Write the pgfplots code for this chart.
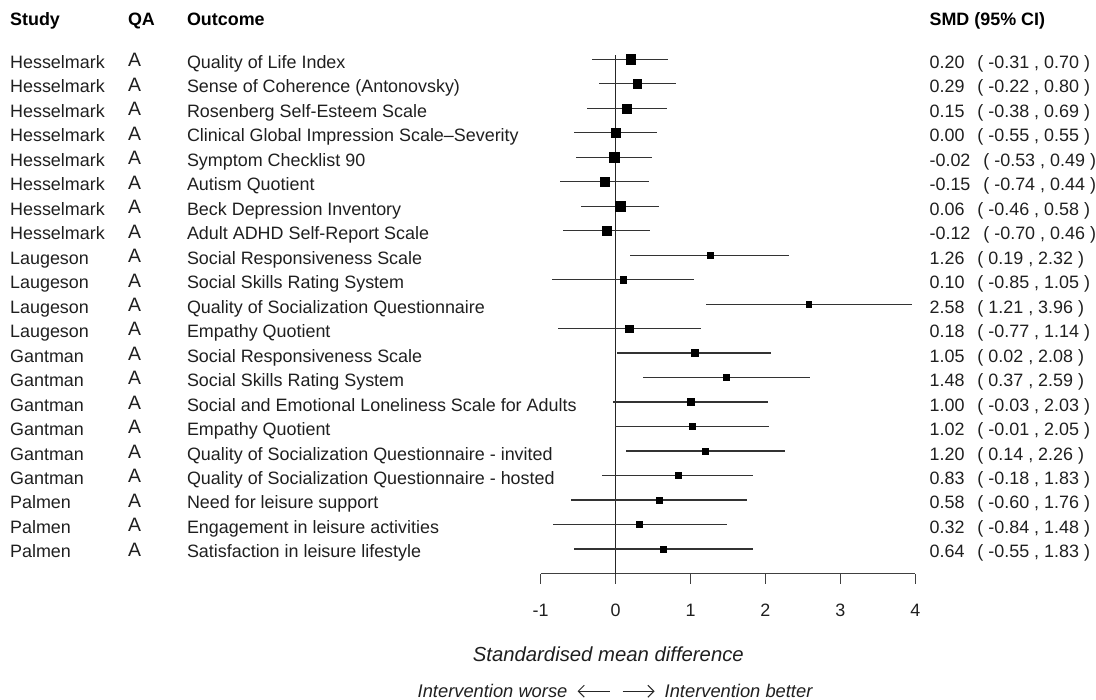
\documentclass[border=0pt]{standalone}
\usepackage{fontspec}
\setmainfont{Liberation Sans}
\usepackage{pgfplots}
\pgfplotsset{compat=1.18}
\usepackage{pgfplotstable}
\usetikzlibrary{arrows.meta}

\pgfplotstableread{
y  smd   lo    hi   sz
21 0.20 -0.31 0.70 9.3
20 0.29 -0.22 0.80 8.7
19 0.15 -0.38 0.69 9.0
18 0.00 -0.55 0.55 9.5
17 -0.02 -0.53 0.49 9.3
16 -0.15 -0.74 0.44 9.0
15 0.06 -0.46 0.58 9.3
14 -0.12 -0.70 0.46 8.7
13 1.26 0.19 2.32 5.7
12 0.10 -0.85 1.05 6.7
11 2.58 1.21 3.96 5.3
10 0.18 -0.77 1.14 7.3
9  1.05 0.02 2.08 7.0
8  1.48 0.37 2.59 6.0
7  1.00 -0.03 2.03 7.0
6  1.02 -0.01 2.05 6.3
5  1.20 0.14 2.26 5.7
4  0.83 -0.18 1.83 6.0
3  0.58 -0.60 1.76 6.3
2  0.32 -0.84 1.48 6.0
1  0.64 -0.55 1.83 6.3
}\fdata

\tikzset{
  lbl/.style={anchor=base west, inner sep=0pt, yshift=-9bp, font=\fontsize{18}{21}\selectfont, text=black!88},
  qa/.style={anchor=base west, inner sep=0pt, yshift=-7.4bp, font=\fontsize{19.5}{22}\selectfont, text=black!88},
  hdr/.style={anchor=base west, inner sep=0pt, font=\fontsize{18}{21}\selectfont\bfseries, text=black},
}

\newcommand{\frow}[5]{%
  \node[lbl] at (axis cs:-8.08,#1) {#2};
  \node[qa] at (axis cs:-6.507,#1) {A};
  \node[lbl] at (axis cs:-5.72,#1) {#3};
  \node[lbl] at (axis cs:4.187,#1) {#4\hspace{13bp}( #5 )};
}

\begin{document}
\begin{tikzpicture}
\begin{axis}[
  scale only axis,
  width=375bp, height=539.5bp,
  xmin=-1, xmax=4, ymin=-0.02, ymax=22,
  axis x line*=bottom, axis y line=none,
  xtick={-1,0,1,2,3,4}, xticklabels={-1,0,1,2,3,4},
  tick align=outside, major tick length=10bp,
  every tick/.style={black!75, line width=1bp},
  axis line style={black!75, line width=1bp},
  xticklabel style={font=\fontsize{18}{21}\selectfont, text=black!88, yshift=-17bp},
  clip=false,
]
% bounding box of the whole picture
\path (axis cs:-8.213,-5.15) rectangle (axis cs:6.4,23.42);

% line of no effect
\addplot[black!85, line width=1bp, forget plot] coordinates {(0,-0.02) (0,21.176)};

% confidence intervals
\addplot[only marks, mark=none, forget plot,
  error bars/.cd, x dir=both, x explicit, error mark=none,
  error bar style={black!80, line width=1.2bp}]
  table[x=smd, y=y,
    x error plus expr=\thisrow{hi}-\thisrow{smd},
    x error minus expr=\thisrow{smd}-\thisrow{lo}] {\fdata};

% point estimates, sized by weight
\addplot[scatter, only marks, mark=square*, forget plot,
  scatter/use mapped color={draw=none, fill=black},
  visualization depends on={\thisrow{sz}/2 \as \msz},
  scatter/@pre marker code/.append style={/tikz/mark size=\msz bp}]
  table[x=smd, y=y] {\fdata};

% headers
\node[hdr] at (axis cs:-8.08,22.36) {Study};
\node[hdr] at (axis cs:-6.507,22.36) {QA};
\node[hdr] at (axis cs:-5.72,22.36) {Outcome};
\node[hdr] at (axis cs:4.187,22.36) {SMD (95\% CI)};

\frow{21}{Hesselmark}{Quality of Life Index}{0.20}{-0.31 , 0.70}
\frow{20}{Hesselmark}{Sense of Coherence (Antonovsky)}{0.29}{-0.22 , 0.80}
\frow{19}{Hesselmark}{Rosenberg Self-Esteem Scale}{0.15}{-0.38 , 0.69}
\frow{18}{Hesselmark}{Clinical Global Impression Scale--Severity}{0.00}{-0.55 , 0.55}
\frow{17}{Hesselmark}{Symptom Checklist 90}{-0.02}{-0.53 , 0.49}
\frow{16}{Hesselmark}{Autism Quotient}{-0.15}{-0.74 , 0.44}
\frow{15}{Hesselmark}{Beck Depression Inventory}{0.06}{-0.46 , 0.58}
\frow{14}{Hesselmark}{Adult ADHD Self-Report Scale}{-0.12}{-0.70 , 0.46}
\frow{13}{Laugeson}{Social Responsiveness Scale}{1.26}{0.19 , 2.32}
\frow{12}{Laugeson}{Social Skills Rating System}{0.10}{-0.85 , 1.05}
\frow{11}{Laugeson}{Quality of Socialization Questionnaire}{2.58}{1.21 , 3.96}
\frow{10}{Laugeson}{Empathy Quotient}{0.18}{-0.77 , 1.14}
\frow{9}{Gantman}{Social Responsiveness Scale}{1.05}{0.02 , 2.08}
\frow{8}{Gantman}{Social Skills Rating System}{1.48}{0.37 , 2.59}
\frow{7}{Gantman}{Social and Emotional Loneliness Scale for Adults}{1.00}{-0.03 , 2.03}
\frow{6}{Gantman}{Empathy Quotient}{1.02}{-0.01 , 2.05}
\frow{5}{Gantman}{Quality of Socialization Questionnaire - invited}{1.20}{0.14 , 2.26}
\frow{4}{Gantman}{Quality of Socialization Questionnaire - hosted}{0.83}{-0.18 , 1.83}
\frow{3}{Palmen}{Need for leisure support}{0.58}{-0.60 , 1.76}
\frow{2}{Palmen}{Engagement in leisure activities}{0.32}{-0.84 , 1.48}
\frow{1}{Palmen}{Satisfaction in leisure lifestyle}{0.64}{-0.55 , 1.83}

% axis title and direction labels
\node[anchor=base west, inner sep=0pt, font=\fontsize{20.4}{24}\selectfont\itshape, text=black!88]
  at (axis cs:-1.907,-3.59) {Standardised mean difference};
\node[anchor=base east, inner sep=0pt, font=\fontsize{18.4}{22}\selectfont\itshape, text=black!88]
  at (axis cs:-0.64,-5.07) {Intervention worse};
\node[anchor=base west, inner sep=0pt, font=\fontsize{18.4}{22}\selectfont\itshape, text=black!88]
  at (axis cs:0.653,-5.07) {Intervention better};
\draw[black!85, line width=1bp, -{Straight Barb[length=6bp,width=12bp]}]
  (axis cs:-0.08,-4.81) -- (axis cs:-0.507,-4.81);
\draw[black!85, line width=1bp, -{Straight Barb[length=6bp,width=12bp]}]
  (axis cs:0.093,-4.81) -- (axis cs:0.52,-4.81);
\end{axis}
\end{tikzpicture}
\end{document}
